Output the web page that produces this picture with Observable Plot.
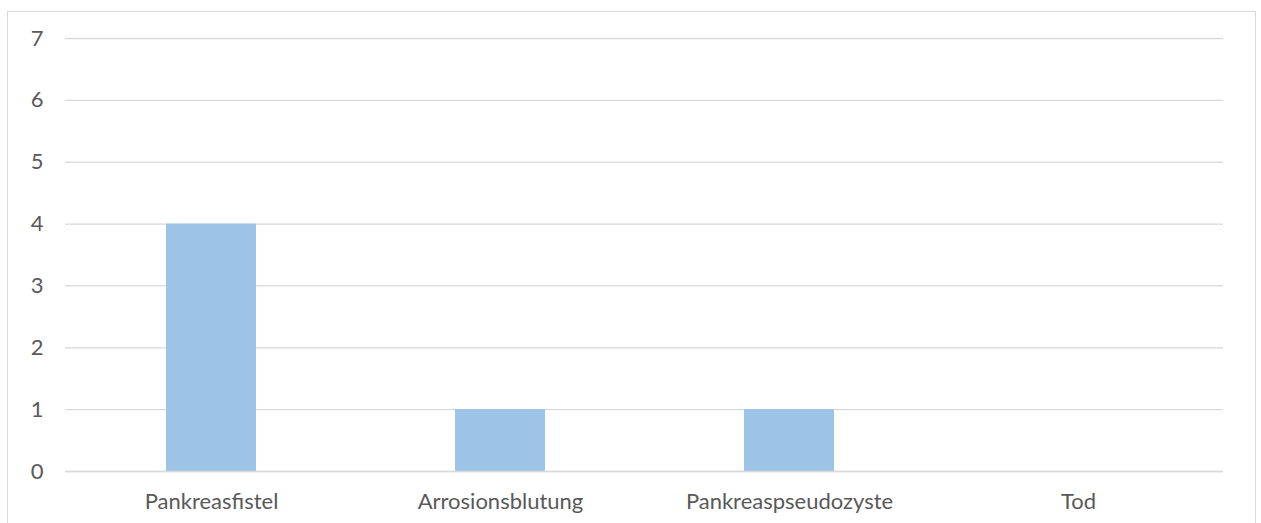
<!DOCTYPE html>
<html>
<head>
<meta charset="utf-8">
<script src="https://cdn.jsdelivr.net/npm/d3@7"></script>
<script src="https://cdn.jsdelivr.net/npm/@observablehq/plot@0.6"></script>
<style>
  html, body { margin: 0; padding: 0; background: #fff; }
  #wrap { position: relative; width: 1261px; height: 523px; overflow: hidden; }
  #frame { position: absolute; left: 7px; top: 11px; width: 1249px; height: 600px;
           border: 1px solid #d9d9d9; box-sizing: border-box; }
  #chart { position: absolute; left: 0; top: 0; }
  #chart svg { font-family: Lato, "Open Sans", sans-serif !important; font-size: 22px !important; }
</style>
</head>
<body>
<div id="wrap">
  <div id="frame"></div>
  <div id="chart"></div>
</div>
<script>
// Complications and their case counts
const categories = ["Pankreasfistel", "Arrosionsblutung", "Pankreaspseudozyste", "Tod"];
const counts = [4, 1, 1, 0];
const yTicks = [0, 1, 2, 3, 4, 5, 6, 7];

const data = categories.map((c, i) => ({category: c, count: counts[i]}));

const chart = Plot.plot({
  width: 1261,
  height: 523,
  marginLeft: 65,
  marginRight: 38,
  marginTop: 38,
  marginBottom: 52,
  style: {color: "#595959", background: "transparent"},
  x: {domain: categories, paddingInner: 0.69, paddingOuter: 0.345, label: null, tickSize: 0, tickPadding: 22},
  y: {domain: [0, 7], ticks: yTicks, tickFormat: "d", label: null, tickSize: 0, tickPadding: 22},
  marks: [
    Plot.ruleY(yTicks, {stroke: "#d9d9d9", strokeWidth: 1.3}),
    Plot.barY(data, {x: "category", y: "count", fill: "#9dc3e6"}),
    Plot.ruleY([0], {stroke: "#d9d9d9", strokeWidth: 1.3})
  ]
});
document.getElementById("chart").appendChild(chart);
</script>
</body>
</html>
